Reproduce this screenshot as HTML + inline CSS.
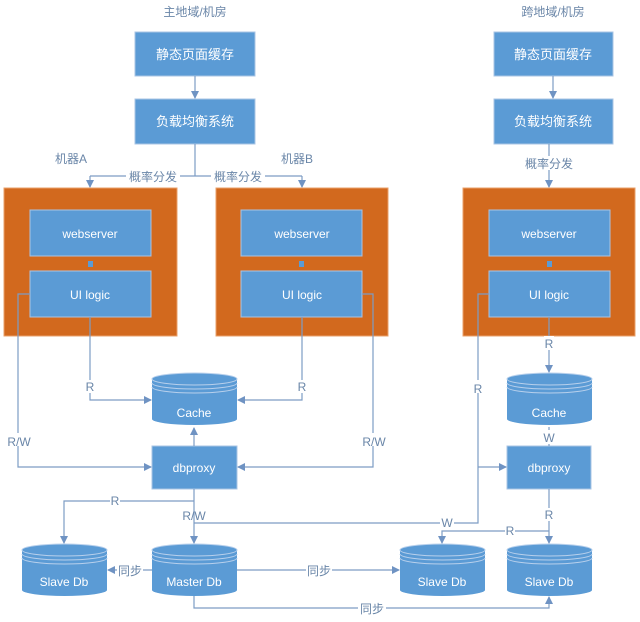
<!DOCTYPE html>
<html><head><meta charset="utf-8"><style>
html,body{margin:0;padding:0;background:#fff}
svg{display:block}
text{font-family:"Liberation Sans","Noto Sans CJK SC",sans-serif}
.w{fill:#fff;font-size:12px;text-anchor:middle}
.c{fill:#fff;font-size:13px;text-anchor:middle}
.l{fill:#6a86a8;font-size:12px;text-anchor:middle}
.ln{stroke:#7d9cc4;stroke-width:1.2;fill:none}
.bx{fill:#5b9bd5;stroke:#a9c4e4;stroke-width:1}
.or{fill:#d2691e;stroke:#e9a06a;stroke-width:1}
</style></head><body>
<svg width="640" height="622" viewBox="0 0 640 622" xmlns="http://www.w3.org/2000/svg">
<defs>
<marker id="a" markerWidth="8" markerHeight="8" refX="7" refY="4" orient="auto" markerUnits="userSpaceOnUse">
<path d="M0,0 L8,4 L0,8 Z" fill="#6f93c3"/></marker>
<g id="cyl">
<path d="M0,6 A42.5,6 0 0 1 85,6 V46 A42.5,6 0 0 1 0,46 Z" fill="#5b9bd5"/>
<ellipse cx="42.5" cy="6" rx="42.5" ry="6" fill="#5b9bd5" stroke="#b8d0ec" stroke-width="1"/>
<path d="M0,10 A42.5,6 0 0 0 85,10 M0,14 A42.5,6 0 0 0 85,14" stroke="#b8d0ec" stroke-width="1" fill="none"/>
</g>
</defs>

<text class="l" x="195" y="16">主地域/机房</text>
<text class="l" x="553" y="16">跨地域/机房</text>

<rect class="bx" x="135" y="32" width="120" height="44"/>
<text class="c" x="195" y="59">静态页面缓存</text>
<rect class="bx" x="135" y="99" width="120" height="45"/>
<text class="c" x="195" y="126">负载均衡系统</text>
<rect class="bx" x="494" y="32" width="119" height="44"/>
<text class="c" x="553" y="59">静态页面缓存</text>
<rect class="bx" x="494" y="99" width="119" height="45"/>
<text class="c" x="553" y="126">负载均衡系统</text>

<path class="ln" d="M195,76 V98" marker-end="url(#a)"/>
<path class="ln" d="M553,76 V98" marker-end="url(#a)"/>
<path class="ln" d="M195,144 V176 M90,176 H302"/>
<path class="ln" d="M90,176 V187" marker-end="url(#a)"/>
<path class="ln" d="M302,176 V187" marker-end="url(#a)"/>
<path class="ln" d="M549,144 V156 M549,170 V187" marker-end="url(#a)"/>
<rect x="126" y="169" width="54" height="14" fill="#fff"/>
<rect x="211" y="169" width="54" height="14" fill="#fff"/>
<text class="l" x="153" y="181">概率分发</text>
<text class="l" x="238" y="181">概率分发</text>
<text class="l" x="549" y="168">概率分发</text>
<text class="l" x="71" y="163">机器A</text>
<text class="l" x="297" y="163">机器B</text>

<rect class="or" x="4" y="188" width="173" height="148"/>
<rect class="or" x="216" y="188" width="172" height="148"/>
<rect class="or" x="463" y="188" width="172" height="148"/>

<rect class="bx" x="30" y="210" width="121" height="46"/>
<rect class="bx" x="30" y="271" width="121" height="46"/>
<rect class="bx" x="241" y="210" width="121" height="46"/>
<rect class="bx" x="241" y="271" width="121" height="46"/>
<rect class="bx" x="489" y="210" width="121" height="46"/>
<rect class="bx" x="489" y="271" width="121" height="46"/>
<rect x="88" y="261" width="5" height="6" fill="#5b9bd5"/>
<rect x="299" y="261" width="5" height="6" fill="#5b9bd5"/>
<rect x="547" y="261" width="5" height="6" fill="#5b9bd5"/>
<text class="w" x="90" y="238">webserver</text>
<text class="w" x="90" y="299">UI logic</text>
<text class="w" x="302" y="238">webserver</text>
<text class="w" x="302" y="299">UI logic</text>
<text class="w" x="549" y="238">webserver</text>
<text class="w" x="549" y="299">UI logic</text>

<use href="#cyl" x="152" y="373"/>
<text class="w" x="194" y="417">Cache</text>
<use href="#cyl" x="507" y="373"/>
<text class="w" x="549" y="417">Cache</text>

<rect class="bx" x="152" y="446" width="85" height="43"/>
<text class="w" x="194" y="472">dbproxy</text>
<rect class="bx" x="507" y="446" width="84" height="43"/>
<text class="w" x="549" y="472">dbproxy</text>

<use href="#cyl" x="22" y="544"/>
<text class="w" x="64" y="586">Slave Db</text>
<use href="#cyl" x="152" y="544"/>
<text class="w" x="194" y="586">Master Db</text>
<use href="#cyl" x="400" y="544"/>
<text class="w" x="442" y="586">Slave Db</text>
<use href="#cyl" x="507" y="544"/>
<text class="w" x="549" y="586">Slave Db</text>

<!-- A -->
<path class="ln" d="M90,317 V400 H151" marker-end="url(#a)"/>
<path class="ln" d="M30,294 H18 V467 H151" marker-end="url(#a)"/>
<!-- B -->
<path class="ln" d="M302,317 V400 H238" marker-end="url(#a)"/>
<path class="ln" d="M362,294 H373 V467 H238" marker-end="url(#a)"/>
<!-- dbproxy to cache -->
<path class="ln" d="M194,446 V428" marker-end="url(#a)"/>
<!-- dbproxy down -->
<path class="ln" d="M194,489 V543" marker-end="url(#a)"/>
<path class="ln" d="M194,501 H64 V543" marker-end="url(#a)"/>
<!-- C -->
<path class="ln" d="M549,317 V372" marker-end="url(#a)"/>
<path class="ln" d="M489,294 H478 V523 H194"/>
<path class="ln" d="M478,467 H506" marker-end="url(#a)"/>
<path class="ln" d="M549,427 V446"/>
<path class="ln" d="M549,489 V543" marker-end="url(#a)"/>
<path class="ln" d="M549,531 H442 V543" marker-end="url(#a)"/>
<!-- sync -->
<path class="ln" d="M152,570 H108" marker-end="url(#a)"/>
<path class="ln" d="M237,570 H399" marker-end="url(#a)"/>
<path class="ln" d="M194,596 V608 H549 V597" marker-end="url(#a)"/>

<!-- labels with white bg -->
<g>
<rect x="85" y="380" width="10" height="13" fill="#fff"/><text class="l" x="90" y="391">R</text>
<rect x="297" y="380" width="10" height="13" fill="#fff"/><text class="l" x="302" y="391">R</text>
<rect x="4" y="433" width="28" height="13" fill="#fff"/><text class="l" x="19" y="446">R/W</text>
<rect x="360" y="433" width="28" height="13" fill="#fff"/><text class="l" x="374" y="446">R/W</text>
<rect x="473" y="380" width="10" height="13" fill="#fff"/><text class="l" x="478" y="393">R</text>
<rect x="544" y="336" width="10" height="14" fill="#fff"/><text class="l" x="549" y="348">R</text>
<rect x="542" y="430" width="14" height="14" fill="#fff"/><text class="l" x="549" y="442">W</text>
<rect x="110" y="495" width="10" height="12" fill="#fff"/><text class="l" x="115" y="505">R</text>
<text class="l" x="194" y="520">R/W</text>
<rect x="440" y="516" width="14" height="13" fill="#fff"/><text class="l" x="447" y="527">W</text>
<rect x="544" y="508" width="10" height="13" fill="#fff"/><text class="l" x="549" y="519">R</text>
<rect x="505" y="525" width="10" height="12" fill="#fff"/><text class="l" x="510" y="535">R</text>
<rect x="117" y="563" width="26" height="14" fill="#fff"/><text class="l" x="130" y="575">同步</text>
<rect x="306" y="563" width="26" height="14" fill="#fff"/><text class="l" x="319" y="575">同步</text>
<rect x="358" y="601" width="28" height="14" fill="#fff"/><text class="l" x="372" y="613">同步</text>
</g>
</svg>
</body></html>
